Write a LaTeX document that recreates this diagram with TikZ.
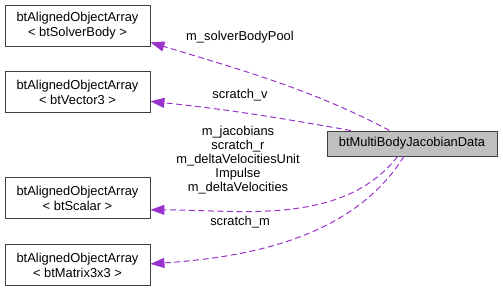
\documentclass[tikz,border=0pt]{standalone}
\usepackage{fontspec}
\setmainfont{Liberation Sans}
\usetikzlibrary{positioning,arrows.meta}

\definecolor{memberedge}{HTML}{9A32CD}
\definecolor{classfill}{HTML}{BFBFBF}

\tikzset{
  klass/.style={draw=black!75, line width=0.9pt, minimum width=145pt, minimum height=41pt,
                inner sep=0pt, align=center, font=\fontsize{12.9}{15}\selectfont},
  mainklass/.style={draw=black!75, line width=0.9pt, fill=classfill, minimum width=170pt,
                minimum height=25pt, inner sep=0pt, font=\fontsize{12.9}{15}\selectfont},
  member/.style={draw=memberedge, line width=1pt, dash pattern=on 6pt off 3.5pt,
                 -{Triangle[length=14pt,width=10pt]}},
  lbl/.style={align=center, inner sep=0pt, font=\fontsize{12.9}{14}\selectfont}
}

\begin{document}
\begin{tikzpicture}[x=1pt,y=1pt]
\useasboundingbox (0,0) rectangle (503,287);

\node[klass]	(solver)	at (77.5,261.5)	{btAlignedObjectArray\\< btSolverBody >};
\node[klass, below = 25pt of solver]	(vec3)	{btAlignedObjectArray\\< btVector3 >};
\node[klass, below = 64pt of vec3]	(scalar)	{btAlignedObjectArray\\< btScalar >};
\node[klass, below = 25pt of scalar]	(mat33)	{btAlignedObjectArray\\< btMatrix3x3 >};
\node[mainklass]	(jac)	at (412,143.5)	{btMultiBodyJacobianData};

% member edges
\draw[member] (jac.150) to[out=152, in=-17, looseness=0.9] (solver.-13);
\draw[member] (jac.168) to[out=170, in=-6] (vec3.-7);
\draw[member] (jac.222) to[out=232, in=0, looseness=0.9] (scalar.-9);
\draw[member] (jac.238) to[out=238, in=4, looseness=0.9] (mat33.1);

% edge labels
\node[lbl]	(lsolver)	at (240,250)	{m\_solverBodyPool};
\node[lbl]	(lvec3)	at (240,192)	{scratch\_v};
\node[lbl]	(lscalar)	at (238,127)	{m\_jacobians\\scratch\_r\\m\_deltaVelocitiesUnit\\Impulse\\m\_deltaVelocities};
\node[lbl]	(lmat33)	at (240,65)	{scratch\_m};
\end{tikzpicture}
\end{document}
